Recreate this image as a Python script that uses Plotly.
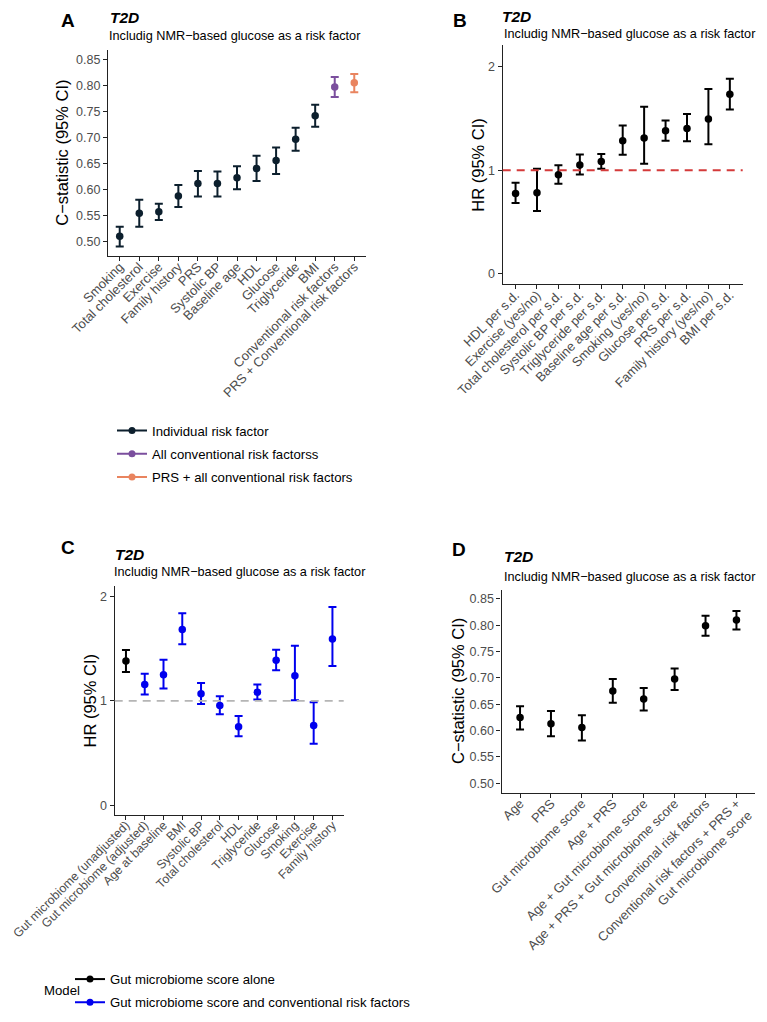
import plotly.graph_objects as go

# ---------------- Data ----------------
# Panel A: C-statistic by risk factor
a_labels = ["Smoking", "Total cholesterol", "Exercise", "Family history", "PRS", "Systolic BP",
            "Baseline age", "HDL", "Glucose", "Triglyceride", "BMI",
            "Conventional risk factors", "PRS + Conventional risk factors"]
a_est = [0.511, 0.555, 0.558, 0.588, 0.612, 0.612, 0.623, 0.641, 0.656, 0.697, 0.742, 0.797, 0.805]
a_lo = [0.491, 0.529, 0.542, 0.567, 0.587, 0.587, 0.601, 0.617, 0.630, 0.675, 0.721, 0.778, 0.787]
a_hi = [0.529, 0.581, 0.573, 0.609, 0.636, 0.635, 0.645, 0.665, 0.681, 0.719, 0.763, 0.816, 0.822]
a_group = ["Individual risk factor"] * 11 + ["All conventional risk factorss", "PRS + all conventional risk factors"]
a_groups = ["Individual risk factor", "All conventional risk factorss", "PRS + all conventional risk factors"]
a_colors = ["#0c1f2d", "#7b4f9e", "#e9845f"]

# Panel B: HR per risk factor
b_labels = ["HDL per s.d.", "Exercise (yes/no)", "Total cholesterol per s.d.", "Systolic BP per s.d.",
            "Triglyceride per s.d.", "Baseline age per s.d.", "Smoking (yes/no)", "Glucose per s.d.",
            "PRS per s.d.", "Family history (yes/no)", "BMI per s.d."]
b_est = [0.776, 0.783, 0.957, 1.050, 1.085, 1.285, 1.311, 1.382, 1.404, 1.494, 1.733]
b_lo = [0.683, 0.605, 0.870, 0.960, 1.014, 1.150, 1.063, 1.285, 1.279, 1.250, 1.588]
b_hi = [0.879, 1.014, 1.047, 1.153, 1.156, 1.433, 1.613, 1.481, 1.543, 1.784, 1.884]

# Panel C: HR with gut microbiome score
c_labels = ["Gut microbiome (unadjusted)", "Gut microbiome (adjusted)", "Age at baseline", "BMI",
            "Systolic BP", "Total cholesterol", "HDL", "Triglyceride", "Glucose", "Smoking",
            "Exercise", "Family history"]
c_est = [1.381, 1.157, 1.250, 1.683, 1.067, 0.955, 0.753, 1.083, 1.388, 1.240, 0.763, 1.593]
c_lo = [1.276, 1.061, 1.119, 1.542, 0.971, 0.872, 0.660, 1.013, 1.292, 1.006, 0.590, 1.333]
c_hi = [1.487, 1.260, 1.394, 1.840, 1.170, 1.045, 0.856, 1.157, 1.490, 1.529, 0.987, 1.900]
c_model = ["Gut microbiome score alone"] + ["Gut microbiome score and conventional risk factors"] * 11
c_models = ["Gut microbiome score alone", "Gut microbiome score and conventional risk factors"]
c_colors = ["#000000", "#0000ee"]

# Panel D: C-statistic of model combinations
d_labels = ["Age", "PRS", "Gut microbiome score", "Age + PRS", "Age + Gut microbiome score",
            "Age + PRS + Gut microbiome score", "Conventional risk factors",
            "Conventional risk factors + PRS +<br>Gut microbiome score"]
d_est = [0.625, 0.613, 0.606, 0.675, 0.660, 0.698, 0.799, 0.810]
d_lo = [0.602, 0.589, 0.581, 0.653, 0.638, 0.677, 0.780, 0.792]
d_hi = [0.646, 0.637, 0.629, 0.698, 0.681, 0.718, 0.818, 0.827]

c_ticks = [0.50, 0.55, 0.60, 0.65, 0.70, 0.75, 0.80, 0.85]
hr_ticks = [0, 1, 2]

# ---------------- Layout helpers ----------------
W, H = 767, 1022
OFF = 8  # page body margin: positions below are given in window pixels
FONT = "Liberation Sans, Arial, Helvetica, sans-serif"
TICKCOL = "#4d4d4d"
AXCOL = "#222222"
XTICKSIZE = 13
YTICKSIZE = 12.5


def px(x):
    return (x - OFF) / W


def py(y):
    return (H - (y - OFF)) / H


def xd(x0, x1):
    return [px(x0), px(x1)]


def yd(top, bottom):
    return [py(bottom), py(top)]


fig = go.Figure()


def add_points(xaxis, yaxis, cats, est, lo, hi, color, name, capw=4):
    fig.add_trace(go.Scatter(
        x=cats, y=est, mode="markers", xaxis=xaxis, yaxis=yaxis, showlegend=False, name=name,
        marker=dict(size=7.5, color=color),
        error_y=dict(type="data", symmetric=False,
                     array=[h - e for h, e in zip(hi, est)],
                     arrayminus=[e - l for e, l in zip(est, lo)],
                     color=color, thickness=2, width=capw),
    ))


# Panel A
for g, col in zip(a_groups, a_colors):
    idx = [i for i, gg in enumerate(a_group) if gg == g]
    add_points("x", "y", [a_labels[i] for i in idx], [a_est[i] for i in idx],
               [a_lo[i] for i in idx], [a_hi[i] for i in idx], col, g)
for k, (g, col) in enumerate(zip(a_groups, a_colors)):
    fig.add_trace(go.Scatter(x=[None], y=[None], mode="lines+markers", name=g, xaxis="x", yaxis="y",
                             line=dict(color=col, width=2), marker=dict(size=7, color=col),
                             legend="legend", legendgroup="a%d" % k, showlegend=True))

# Panel B
add_points("x2", "y2", b_labels, b_est, b_lo, b_hi, "#000000", "HR")

# Panel C
for m, col in zip(c_models, c_colors):
    idx = [i for i, mm in enumerate(c_model) if mm == m]
    add_points("x3", "y3", [c_labels[i] for i in idx], [c_est[i] for i in idx],
               [c_lo[i] for i in idx], [c_hi[i] for i in idx], col, m)
for k, (m, col) in enumerate(zip(c_models, c_colors)):
    fig.add_trace(go.Scatter(x=[None], y=[None], mode="lines+markers", name=m, xaxis="x3", yaxis="y3",
                             line=dict(color=col, width=2), marker=dict(size=7, color=col),
                             legend="legend2", legendgroup="c%d" % k, showlegend=True))

# Panel D
add_points("x4", "y4", d_labels, d_est, d_lo, d_hi, "#000000", "C")

axis_common = dict(showline=True, linecolor=AXCOL, linewidth=1.3, ticks="outside", ticklen=4,
                   tickcolor=AXCOL, tickwidth=1, showgrid=False, zeroline=False, automargin=False,
                   fixedrange=True)

xcat = dict(axis_common, type="category", tickangle=-45, ticklabelstandoff=-7,
            tickfont=dict(family=FONT, size=XTICKSIZE, color=TICKCOL))
ynum = dict(axis_common, tickfont=dict(family=FONT, size=YTICKSIZE, color=TICKCOL))

fig.update_layout(
    width=W, height=H, margin=dict(l=0, r=0, t=0, b=0),
    paper_bgcolor="white", plot_bgcolor="white", template="none",
    font=dict(family=FONT, color="#000000"),
    xaxis=dict(xcat, domain=xd(108, 366), anchor="y", categoryorder="array", categoryarray=a_labels,
               range=[-0.6, len(a_labels) - 0.4]),
    yaxis=dict(ynum, domain=yd(50, 256), anchor="x", range=[0.473, 0.868],
               tickvals=c_ticks, tickformat=".2f"),
    xaxis2=dict(xcat, domain=xd(502.7, 742.7), anchor="y2", categoryorder="array", categoryarray=b_labels,
                range=[-0.6, len(b_labels) - 0.4]),
    yaxis2=dict(ynum, domain=yd(45, 284.3), anchor="x2", range=[-0.102, 2.21], tickvals=hr_ticks),
    xaxis3=dict(xcat, domain=xd(114.7, 343.7), anchor="y3", categoryorder="array", categoryarray=c_labels,
                range=[-0.6, len(c_labels) - 0.4], tickfont=dict(family=FONT, size=12.3, color=TICKCOL)),
    yaxis3=dict(ynum, domain=yd(586, 815), anchor="x3", range=[-0.093, 2.10], tickvals=hr_ticks),
    xaxis4=dict(xcat, domain=xd(501.5, 755), anchor="y4", categoryorder="array", categoryarray=d_labels,
                range=[-0.6, len(d_labels) - 0.4]),
    yaxis4=dict(ynum, domain=yd(590, 792.7), anchor="x4", range=[0.482, 0.867],
                tickvals=c_ticks, tickformat=".2f"),
    legend=dict(x=px(112), y=py(415.5), xanchor="left", yanchor="top", bgcolor="rgba(0,0,0,0)",
                font=dict(family=FONT, size=13.2, color="#000000"), tracegroupgap=3, itemwidth=30),
    legend2=dict(x=px(70), y=py(964), xanchor="left", yanchor="top", bgcolor="rgba(0,0,0,0)",
                 font=dict(family=FONT, size=13.2, color="#000000"), tracegroupgap=3, itemwidth=30),
)

# reference lines at HR = 1
fig.add_shape(type="line", xref="x2 domain", yref="y2", x0=0, x1=1, y0=1, y1=1,
              line=dict(color="#d43a3a", width=2, dash="8px,6px"))
fig.add_shape(type="line", xref="x3 domain", yref="y3", x0=0, x1=1, y0=1, y1=1,
              line=dict(color="#b5b5b5", width=1.6, dash="8px,6px"))

ann = []


def text(x, y, s, size, bold=False, italic=False, xanchor="left", angle=0, color="#000000", pad=1):
    if bold:
        s = "<b>%s</b>" % s
    if italic:
        s = "<i>%s</i>" % s
    ann.append(dict(x=px(x), y=py(y), xref="paper", yref="paper", text=s, showarrow=False,
                    xanchor=xanchor, yanchor="middle", textangle=angle, borderpad=pad,
                    font=dict(family=FONT, size=size, color=color)))


sub = "Includig NMR\u2212based glucose as a risk factor"
SUBSIZE = 12.7
# Panel A
text(68, 20, "A", 19, bold=True, xanchor="center", pad=0)
text(109, 17.5, "T2D", 15.5, bold=True, italic=True, pad=0)
text(107, 35.7, sub, SUBSIZE)
text(61.7, 153, "C\u2212statistic (95% CI)", 16.5, xanchor="center", angle=-90)
# Panel B
text(459.7, 20, "B", 19, bold=True, xanchor="center", pad=0)
text(501.3, 17, "T2D", 15.5, bold=True, italic=True, pad=0)
text(502, 34, sub, SUBSIZE)
text(478, 164.7, "HR (95% CI)", 16.5, xanchor="center", angle=-90)
# Panel C
text(68.3, 547.3, "C", 19, bold=True, xanchor="center")
text(113, 554.3, "T2D", 15.5, bold=True, italic=True)
text(112, 572.3, sub, SUBSIZE)
text(89, 700.5, "HR (95% CI)", 16.5, xanchor="center", angle=-90)
text(41.7, 990, "Model", 13.2)
# Panel D
text(458.5, 549.3, "D", 19, bold=True, xanchor="center")
text(502.3, 556.7, "T2D", 15.5, bold=True, italic=True)
text(501.5, 576.7, sub, SUBSIZE)
text(458.7, 691.3, "C\u2212statistic (95% CI)", 16.5, xanchor="center", angle=-90)

fig.update_layout(annotations=ann)

fig.write_html("out.html")
